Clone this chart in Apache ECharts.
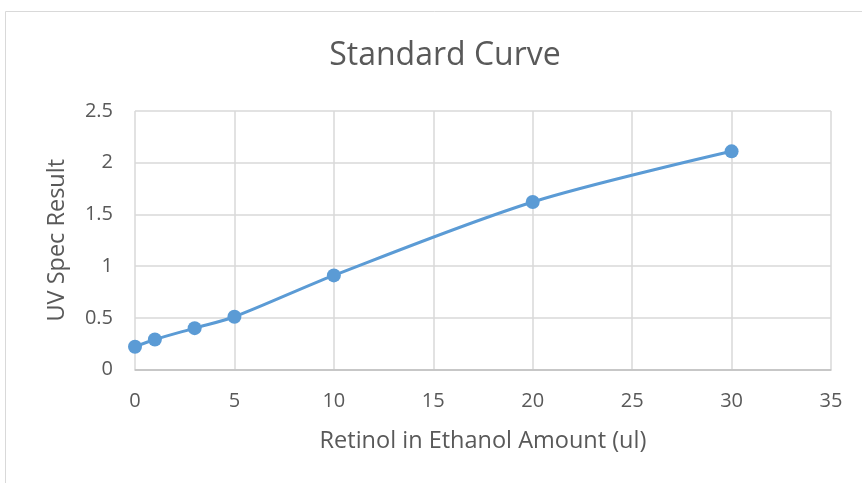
<!DOCTYPE html>
<html><head><meta charset="utf-8">
<script src="https://cdn.jsdelivr.net/npm/echarts@6/dist/echarts.min.js"></script>
<style>html,body{margin:0;padding:0;background:#fff}#c{width:862px;height:483px}</style>
</head><body><div id="c"></div>
<script>
const xValues = [0, 1, 3, 5, 10, 20, 30];
const yValues = [0.22, 0.29, 0.40, 0.51, 0.91, 1.62, 2.11];
const titleText = 'Standard Curve';
const xName = 'Retinol in Ethanol Amount (ul)';
const yName = 'UV Spec Result';

const font = '"Open Sans", "Noto Sans", sans-serif';
const chart = echarts.init(document.getElementById('c'), null, {renderer: 'canvas'});
chart.setOption({
  animation: false,
  backgroundColor: '#fff',
  graphic: [{type: 'rect', shape: {x: 5.5, y: 11.5, width: 900, height: 500}, style: {fill: 'none', stroke: '#d9d9d9', lineWidth: 1}, silent: true}],
  title: {text: titleText, left: 440, top: 35, textAlign: 'center',
    textStyle: {fontFamily: font, fontSize: 32, fontWeight: 'normal', color: '#595959'}},
  grid: {left: 135, right: 31, top: 111, bottom: 113.5},
  xAxis: {type: 'value', min: 0, max: 35, interval: 5,
    name: xName, nameLocation: 'middle', nameGap: 60,
    nameTextStyle: {fontFamily: font, fontSize: 23.5, color: '#595959'},
    axisLine: {show: true, lineStyle: {color: '#bfbfbf', width: 1.5}},
    axisTick: {show: false},
    axisLabel: {fontFamily: font, fontSize: 20, color: '#595959', margin: 22},
    splitLine: {show: true, lineStyle: {color: '#d9d9d9', width: 1.5}}},
  yAxis: {type: 'value', min: 0, max: 2.5, interval: 0.5,
    name: yName, nameLocation: 'middle', nameGap: 66,
    nameTextStyle: {fontFamily: font, fontSize: 23.5, color: '#595959'},
    axisLine: {show: false}, axisTick: {show: false},
    axisLabel: {fontFamily: font, fontSize: 20, color: '#595959', margin: 22,
      formatter: v => String(v)},
    splitLine: {show: true, lineStyle: {color: '#d9d9d9', width: 1.5}}},
  series: [{type: 'line', smooth: 0.3,
    data: xValues.map((x, i) => [x, yValues[i]]),
    symbol: 'circle', symbolSize: 14,
    itemStyle: {color: '#5b9bd5'},
    lineStyle: {color: '#5b9bd5', width: 3}}]
});
</script></body></html>
